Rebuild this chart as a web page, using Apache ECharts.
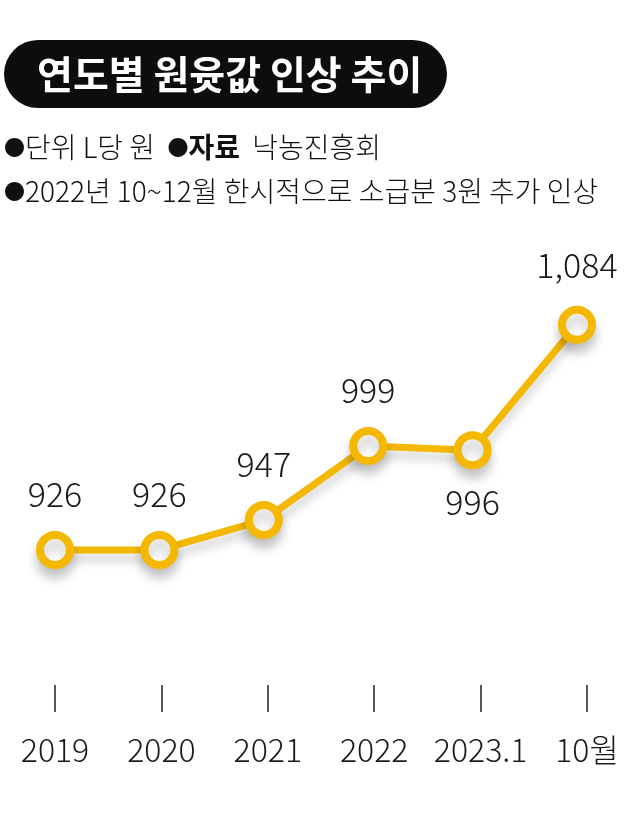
<!DOCTYPE html>
<html><head><meta charset="utf-8">
<script src="https://cdn.jsdelivr.net/npm/echarts@6/dist/echarts.min.js"></script>
<style>html,body{margin:0;padding:0;background:#fff}#c{width:640px;height:819px}</style>
</head><body><div id="c"></div>
<script>
const categories = ['2019', '2020', '2021', '2022', '2023.1', '10월'];
const values = [926, 926, 947, 999, 996, 1084];
const labelPos = ['top', 'top', 'top', 'top', 'bottom', 'top'];
const titleText = '연도별 원윳값 인상 추이';
const FONT = '"Noto Sans CJK KR", "Noto Sans", sans-serif';

const chart = echarts.init(document.getElementById('c'), null, {renderer: 'canvas'});
const yellow = '#F4B800';
const note = {fontSize: 28, fontFamily: FONT, fill: '#111', fontWeight: 300};
const dot = {fontSize: 21, fontFamily: FONT, fill: '#111'};
chart.setOption({
  animation: false,
  backgroundColor: '#fff',
  grid: [
    {left: 55, right: 63, top: 302, height: 285},
    {left: 55, right: 53, top: 685, height: 27}
  ],
  xAxis: [
    {gridIndex: 0, type: 'category', data: categories, boundaryGap: false, show: false},
    {gridIndex: 1, type: 'category', data: categories, boundaryGap: false,
     axisLine: {show: false},
     axisTick: {show: true, inside: true, length: 27, alignWithLabel: true, lineStyle: {color: '#222', width: 1.5}},
     axisLabel: {margin: 22, fontSize: 32, fontWeight: 300, color: '#1a1a1a', fontFamily: FONT, interval: 0}}
  ],
  yAxis: [
    {gridIndex: 0, type: 'value', min: 900, max: 1100, show: false},
    {gridIndex: 1, type: 'value', show: false}
  ],
  graphic: [
    {type: 'rect', shape: {x: 4, y: 40, width: 443, height: 68, r: 34}, style: {fill: '#0d0d0d'}},
    {type: 'text', x: 37, y: 74, style: {text: titleText, fill: '#fff', font: 'bold 39px ' + FONT, textVerticalAlign: 'middle'}},
    {type: 'text', x: 4, y: 147, style: {
      rich: {d: dot, n: note, b: Object.assign({}, note, {fontWeight: 'bold'})},
      text: '{d|●}{n|단위 L당 원  }{d|●}{b|자료}{n|  낙농진흥회}', textVerticalAlign: 'middle'}},
    {type: 'text', x: 4, y: 191, style: {
      rich: {d: dot, n: note},
      text: '{d|●}{n|2022년 10~12월 한시적으로 소급분 3원 추가 인상}', textVerticalAlign: 'middle'}}
  ],
  series: [{
    type: 'line',
    xAxisIndex: 0, yAxisIndex: 0,
    data: values.map((v, i) => ({
      value: v,
      label: {position: labelPos[i], distance: labelPos[i] === 'top' ? (i === 5 ? 24 : 20) : 16}
    })),
    symbol: 'circle',
    symbolSize: 30,
    lineStyle: {color: yellow, width: 7, shadowColor: 'rgba(0,0,0,0.18)', shadowBlur: 10, shadowOffsetY: 8},
    itemStyle: {color: '#fff', borderColor: yellow, borderWidth: 8, shadowColor: 'rgba(0,0,0,0.2)', shadowBlur: 12, shadowOffsetY: 9},
    label: {show: true, fontSize: 34, fontWeight: 300, color: '#1a1a1a', fontFamily: FONT,
      formatter: p => p.value.toLocaleString('en-US')}
  }, {
    type: 'line', xAxisIndex: 1, yAxisIndex: 1, data: [], silent: true
  }]
});
</script></body></html>
